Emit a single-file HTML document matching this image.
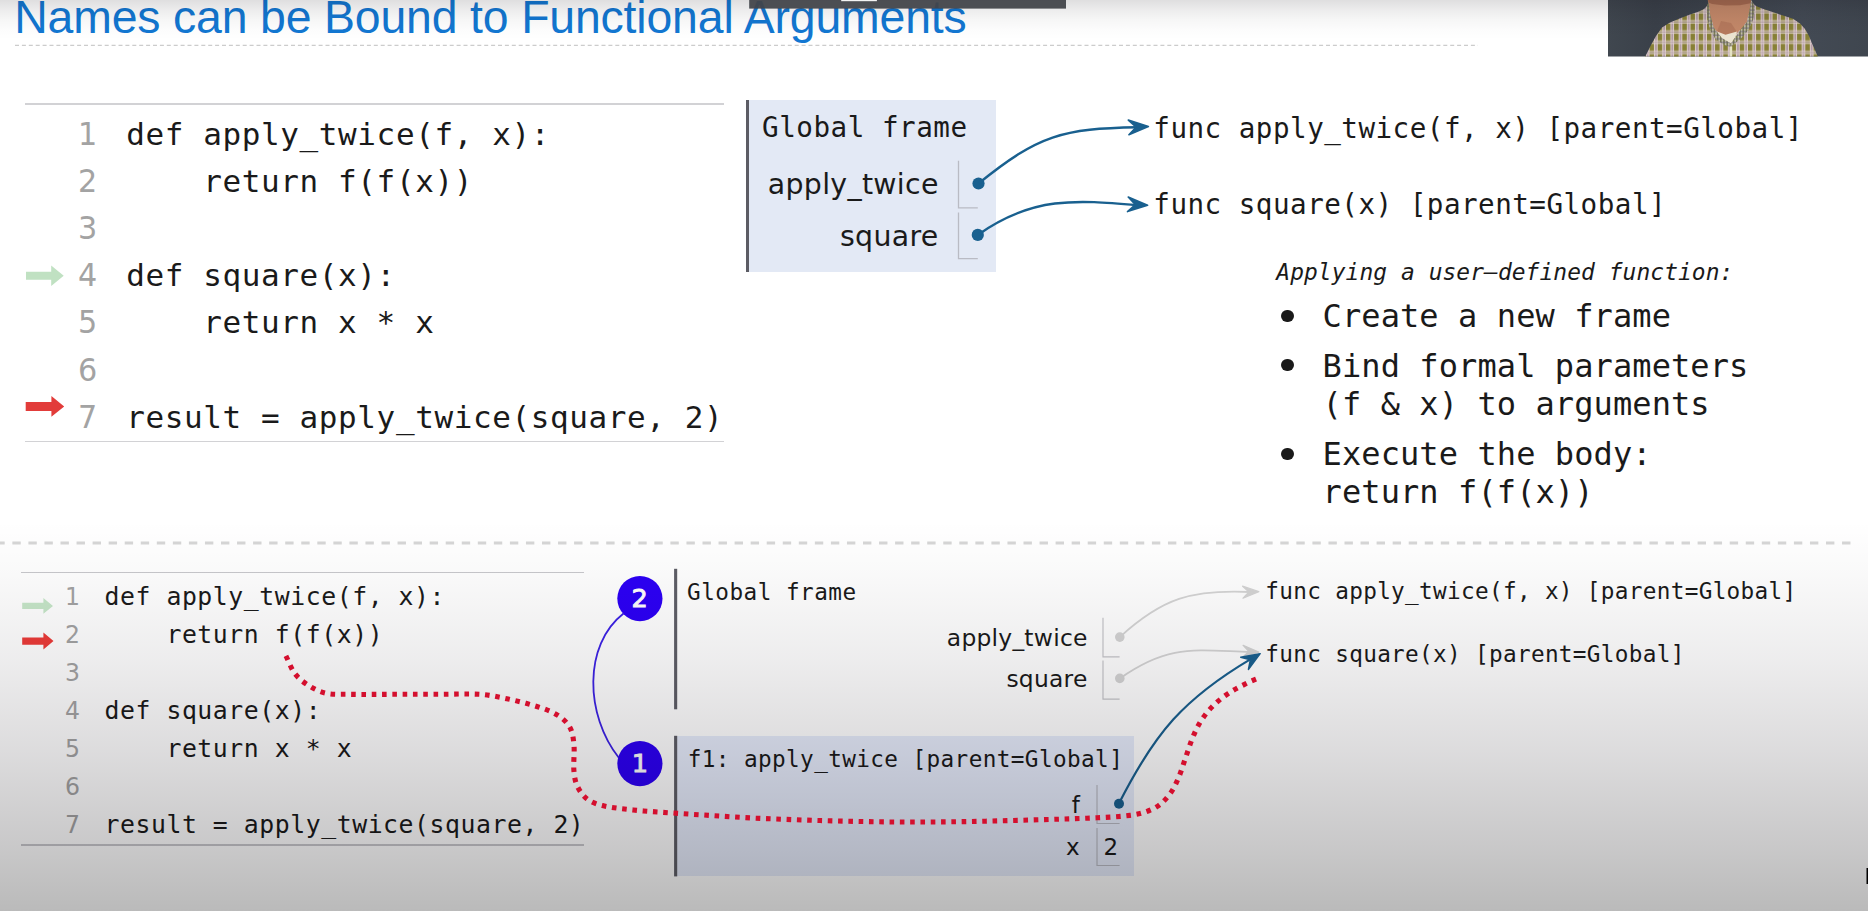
<!DOCTYPE html>
<html lang="en"><head><meta charset="utf-8"><title>Names can be Bound to Functional Arguments</title>
<style>
html,body{margin:0;padding:0;}
body{width:1868px;height:911px;overflow:hidden;background:#fff;position:relative;}
.t{position:absolute;white-space:pre;line-height:0;height:100px;}
.t::before{content:"";display:inline-block;width:0;height:100px;vertical-align:baseline;}
.abs{position:absolute;}
svg{position:absolute;left:0;top:0;}
</style></head>
<body>
<div class="t" style="left:14.2px;top:-66.6px;font-size:46.4px;font-family:'Liberation Sans', sans-serif;color:#1277d2;letter-spacing:-0.166px;">Names can be Bound to Functional Arguments</div>
<svg width="1868" height="60" style="z-index:0"><line x1="15" y1="45.3" x2="1478" y2="45.3" stroke="#cccccc" stroke-width="1.3" stroke-dasharray="4 2.9"/></svg>
<div class="abs" style="left:25px;top:103.4px;width:699px;height:1.3px;background:#d2d2d5;"></div>
<div class="abs" style="left:25px;top:440.9px;width:699px;height:1.3px;background:#d2d2d5;"></div>
<div class="t" style="left:78.3px;top:44.6px;font-size:31.2px;font-family:'DejaVu Sans', 'Liberation Sans', sans-serif;color:#a3a3a3;transform:scaleX(0.97);transform-origin:left;">1</div>
<div class="t" style="left:126.2px;top:44.6px;font-size:31.0px;font-family:'DejaVu Sans Mono', 'Liberation Mono', monospace;color:#1a1a1a;letter-spacing:0.6px;">def apply_twice(f, x):</div>
<div class="t" style="left:78.3px;top:91.8px;font-size:31.2px;font-family:'DejaVu Sans', 'Liberation Sans', sans-serif;color:#a3a3a3;transform:scaleX(0.97);transform-origin:left;">2</div>
<div class="t" style="left:126.2px;top:91.8px;font-size:31.0px;font-family:'DejaVu Sans Mono', 'Liberation Mono', monospace;color:#1a1a1a;letter-spacing:0.6px;">    return f(f(x))</div>
<div class="t" style="left:78.3px;top:139.0px;font-size:31.2px;font-family:'DejaVu Sans', 'Liberation Sans', sans-serif;color:#a3a3a3;transform:scaleX(0.97);transform-origin:left;">3</div>
<div class="t" style="left:78.3px;top:186.2px;font-size:31.2px;font-family:'DejaVu Sans', 'Liberation Sans', sans-serif;color:#a3a3a3;transform:scaleX(0.97);transform-origin:left;">4</div>
<div class="t" style="left:126.2px;top:186.2px;font-size:31.0px;font-family:'DejaVu Sans Mono', 'Liberation Mono', monospace;color:#1a1a1a;letter-spacing:0.6px;">def square(x):</div>
<div class="t" style="left:78.3px;top:233.4px;font-size:31.2px;font-family:'DejaVu Sans', 'Liberation Sans', sans-serif;color:#a3a3a3;transform:scaleX(0.97);transform-origin:left;">5</div>
<div class="t" style="left:126.2px;top:233.4px;font-size:31.0px;font-family:'DejaVu Sans Mono', 'Liberation Mono', monospace;color:#1a1a1a;letter-spacing:0.6px;">    return x * x</div>
<div class="t" style="left:78.3px;top:280.6px;font-size:31.2px;font-family:'DejaVu Sans', 'Liberation Sans', sans-serif;color:#a3a3a3;transform:scaleX(0.97);transform-origin:left;">6</div>
<div class="t" style="left:78.3px;top:327.8px;font-size:31.2px;font-family:'DejaVu Sans', 'Liberation Sans', sans-serif;color:#a3a3a3;transform:scaleX(0.97);transform-origin:left;">7</div>
<div class="t" style="left:126.2px;top:327.8px;font-size:31.0px;font-family:'DejaVu Sans Mono', 'Liberation Mono', monospace;color:#1a1a1a;letter-spacing:0.6px;">result = apply_twice(square, 2)</div>
<div class="abs" style="left:21px;top:572px;width:563px;height:1.3px;background:#c8c8cc;"></div>
<div class="abs" style="left:21px;top:844.3px;width:563px;height:1.3px;background:#c8c8cc;"></div>
<div class="t" style="left:64.6px;top:504.5px;font-size:24.3px;font-family:'DejaVu Sans', 'Liberation Sans', sans-serif;color:#a3a3a3;transform:scaleX(0.97);transform-origin:left;">1</div>
<div class="t" style="left:104.5px;top:504.5px;font-size:24.8px;font-family:'DejaVu Sans Mono', 'Liberation Mono', monospace;color:#1a1a1a;letter-spacing:0.55px;">def apply_twice(f, x):</div>
<div class="t" style="left:64.6px;top:542.5px;font-size:24.3px;font-family:'DejaVu Sans', 'Liberation Sans', sans-serif;color:#a3a3a3;transform:scaleX(0.97);transform-origin:left;">2</div>
<div class="t" style="left:104.5px;top:542.5px;font-size:24.8px;font-family:'DejaVu Sans Mono', 'Liberation Mono', monospace;color:#1a1a1a;letter-spacing:0.55px;">    return f(f(x))</div>
<div class="t" style="left:64.6px;top:580.5px;font-size:24.3px;font-family:'DejaVu Sans', 'Liberation Sans', sans-serif;color:#a3a3a3;transform:scaleX(0.97);transform-origin:left;">3</div>
<div class="t" style="left:64.6px;top:618.5px;font-size:24.3px;font-family:'DejaVu Sans', 'Liberation Sans', sans-serif;color:#a3a3a3;transform:scaleX(0.97);transform-origin:left;">4</div>
<div class="t" style="left:104.5px;top:618.5px;font-size:24.8px;font-family:'DejaVu Sans Mono', 'Liberation Mono', monospace;color:#1a1a1a;letter-spacing:0.55px;">def square(x):</div>
<div class="t" style="left:64.6px;top:656.5px;font-size:24.3px;font-family:'DejaVu Sans', 'Liberation Sans', sans-serif;color:#a3a3a3;transform:scaleX(0.97);transform-origin:left;">5</div>
<div class="t" style="left:104.5px;top:656.5px;font-size:24.8px;font-family:'DejaVu Sans Mono', 'Liberation Mono', monospace;color:#1a1a1a;letter-spacing:0.55px;">    return x * x</div>
<div class="t" style="left:64.6px;top:694.5px;font-size:24.3px;font-family:'DejaVu Sans', 'Liberation Sans', sans-serif;color:#a3a3a3;transform:scaleX(0.97);transform-origin:left;">6</div>
<div class="t" style="left:64.6px;top:732.5px;font-size:24.3px;font-family:'DejaVu Sans', 'Liberation Sans', sans-serif;color:#a3a3a3;transform:scaleX(0.97);transform-origin:left;">7</div>
<div class="t" style="left:104.5px;top:732.5px;font-size:24.8px;font-family:'DejaVu Sans Mono', 'Liberation Mono', monospace;color:#1a1a1a;letter-spacing:0.55px;">result = apply_twice(square, 2)</div>
<div class="abs" style="left:746px;top:100px;width:249.5px;height:172px;background:#e3e9f5;"></div>
<div class="abs" style="left:746px;top:100px;width:3px;height:172px;background:#5c5c64;"></div>
<div class="t" style="left:762px;top:37.1px;font-size:27.6px;font-family:'DejaVu Sans Mono', 'Liberation Mono', monospace;color:#1a1a1a;letter-spacing:0.52px;">Global frame</div>
<div class="t" style="left:767.8px;top:93.7px;font-size:28.4px;font-family:'DejaVu Sans', 'Liberation Sans', sans-serif;color:#1a1a1a;letter-spacing:0.3px;">apply_twice</div>
<div class="t" style="left:840px;top:145.5px;font-size:28.4px;font-family:'DejaVu Sans', 'Liberation Sans', sans-serif;color:#1a1a1a;letter-spacing:0.3px;">square</div>
<div class="t" style="left:1153.3px;top:37.7px;font-size:27.6px;font-family:'DejaVu Sans Mono', 'Liberation Mono', monospace;color:#1a1a1a;letter-spacing:0.48px;">func apply_twice(f, x) [parent=Global]</div>
<div class="t" style="left:1153.3px;top:114.2px;font-size:27.6px;font-family:'DejaVu Sans Mono', 'Liberation Mono', monospace;color:#1a1a1a;letter-spacing:0.48px;">func square(x) [parent=Global]</div>
<div class="t" style="left:1276.3px;top:179.9px;font-size:22.9px;font-family:'DejaVu Sans Mono', 'Liberation Mono', monospace;color:#1a1a1a;letter-spacing:0.07px;font-style:italic;">Applying a user–defined function:</div>
<div class="t" style="left:1322.6px;top:227.3px;font-size:32px;font-family:'DejaVu Sans Mono', 'Liberation Mono', monospace;color:#1a1a1a;letter-spacing:0.09px;">Create a new frame</div>
<div class="t" style="left:1322.6px;top:277.0px;font-size:32px;font-family:'DejaVu Sans Mono', 'Liberation Mono', monospace;color:#1a1a1a;letter-spacing:0.09px;">Bind formal parameters</div>
<div class="t" style="left:1322.6px;top:315.3px;font-size:32px;font-family:'DejaVu Sans Mono', 'Liberation Mono', monospace;color:#1a1a1a;letter-spacing:0.09px;">(f &amp; x) to arguments</div>
<div class="t" style="left:1322.6px;top:364.6px;font-size:32px;font-family:'DejaVu Sans Mono', 'Liberation Mono', monospace;color:#1a1a1a;letter-spacing:0.09px;">Execute the body:</div>
<div class="t" style="left:1322.6px;top:402.9px;font-size:32px;font-family:'DejaVu Sans Mono', 'Liberation Mono', monospace;color:#1a1a1a;letter-spacing:0.09px;">return f(f(x))</div>
<div class="abs" style="left:1281.3999999999999px;top:309.6px;width:12.4px;height:12.4px;border-radius:50%;background:#1a1a1a;"></div>
<div class="abs" style="left:1281.3999999999999px;top:359.0px;width:12.4px;height:12.4px;border-radius:50%;background:#1a1a1a;"></div>
<div class="abs" style="left:1281.3999999999999px;top:447.7px;width:12.4px;height:12.4px;border-radius:50%;background:#1a1a1a;"></div>
<svg width="1868" height="560"><line x1="-3.7" y1="543" x2="1856" y2="543" stroke="#d6d6d6" stroke-width="3.2" stroke-dasharray="8.4 7.65"/></svg>
<div class="t" style="left:687px;top:499.5px;font-size:22.7px;font-family:'DejaVu Sans Mono', 'Liberation Mono', monospace;color:#1a1a1a;letter-spacing:0.47px;">Global frame</div>
<div class="t" style="left:946.8px;top:545.7px;font-size:23.4px;font-family:'DejaVu Sans', 'Liberation Sans', sans-serif;color:#1a1a1a;letter-spacing:0.25px;">apply_twice</div>
<div class="t" style="left:1006.4px;top:587.4px;font-size:23.4px;font-family:'DejaVu Sans', 'Liberation Sans', sans-serif;color:#1a1a1a;letter-spacing:0.25px;">square</div>
<div class="abs" style="left:675px;top:735.8px;width:458.6px;height:140.4px;background:#e6ecfb;"></div>
<div class="t" style="left:687.7px;top:666.5px;font-size:22.7px;font-family:'DejaVu Sans Mono', 'Liberation Mono', monospace;color:#1a1a1a;letter-spacing:0.39px;">f1: apply_twice [parent=Global]</div>
<div class="t" style="left:1071.8px;top:712.6px;font-size:23px;font-family:'DejaVu Sans', 'Liberation Sans', sans-serif;color:#1a1a1a;">f</div>
<div class="t" style="left:1066px;top:755px;font-size:23px;font-family:'DejaVu Sans', 'Liberation Sans', sans-serif;color:#1a1a1a;">x</div>
<div class="t" style="left:1103.5px;top:755px;font-size:23px;font-family:'DejaVu Sans', 'Liberation Sans', sans-serif;color:#1a1a1a;">2</div>
<div class="t" style="left:1265.3px;top:499.3px;font-size:22.7px;font-family:'DejaVu Sans Mono', 'Liberation Mono', monospace;color:#1a1a1a;letter-spacing:0.32px;">func apply_twice(f, x) [parent=Global]</div>
<div class="t" style="left:1265.3px;top:562.3px;font-size:22.7px;font-family:'DejaVu Sans Mono', 'Liberation Mono', monospace;color:#1a1a1a;letter-spacing:0.32px;">func square(x) [parent=Global]</div>
<svg width="1868" height="911" viewBox="0 0 1868 911">
<path d="M26 271.8 L51.2 271.8 L51.2 265.55 L63.7 275.8 L51.2 286.05 L51.2 279.8 L26 279.8 Z" fill="#c0e1c2"/>
<path d="M25.7 401.9 L51.4 401.9 L51.4 396.04999999999995 L64.2 406.4 L51.4 416.75 L51.4 410.9 L25.7 410.9 Z" fill="#e23c3a"/>
<path d="M22.2 602.85 L43.4 602.85 L43.4 598.0 L53 605.9 L43.4 613.8 L43.4 608.9499999999999 L22.2 608.9499999999999 Z" fill="#c6e6c8"/>
<path d="M22.2 637.45 L43.4 637.45 L43.4 632.6 L53.5 641.1 L43.4 649.6 L43.4 644.75 L22.2 644.75 Z" fill="#ec3b38"/>
<path d="M958.5 160.7 V207.8 H977.8" fill="none" stroke="#b9bbc4" stroke-width="1.3"/>
<path d="M958.5 212.5 V258.7 H977.8" fill="none" stroke="#b9bbc4" stroke-width="1.3"/>
<path d="M1103 617.8 V656.8 H1119.6" fill="none" stroke="#c6c6ca" stroke-width="1.2"/>
<path d="M1103 660.6 V699.2 H1119.6" fill="none" stroke="#c6c6ca" stroke-width="1.2"/>
<path d="M1097 785 V823.5 H1119.6" fill="none" stroke="#b9bbc4" stroke-width="1.2"/>
<path d="M1097 828 V865.5 H1119.6" fill="none" stroke="#b9bbc4" stroke-width="1.2"/>
<circle cx="978.5" cy="183.5" r="6.1" fill="#19608f"/>
<circle cx="977.8" cy="234.9" r="6.1" fill="#19608f"/>
<path d="M978.5 183.5 C1038.8 134.7 1062.6 128.6 1138 127.3" fill="none" stroke="#19608f" stroke-width="2.4"/>
<path d="M977.8 234.9 C1032.5 196.3 1075.2 199.8 1138 205.2" fill="none" stroke="#19608f" stroke-width="2.4"/>
<path d="M1148.4 126.6 L1128.3 120.1 L1136.2 127.1 L1128.9 134.7 Z" fill="#19608f" stroke="#19608f" stroke-width="1.6" stroke-linejoin="round"/>
<path d="M1147.6 205.3 L1128.2 197.0 L1135.4 204.7 L1127.5 211.6 Z" fill="#19608f" stroke="#19608f" stroke-width="1.6" stroke-linejoin="round"/>
<circle cx="1119.8" cy="637.1" r="4.8" fill="#d4d4d4"/>
<circle cx="1119.8" cy="678.4" r="4.8" fill="#d4d4d4"/>
<path d="M1119.8 637.1 C1162.3 598.1 1191.9 589.3 1250 592" fill="none" stroke="#d4d4d4" stroke-width="1.8"/>
<path d="M1119.8 678.4 C1169.0 643.9 1193.7 650.3 1250 652" fill="none" stroke="#d4d4d4" stroke-width="1.8"/>
<path d="M1258.8 591.7 L1242.6 586.2 L1249.0 592.0 L1243.0 598.2 Z" fill="#d4d4d4" stroke="#d4d4d4" stroke-width="1.3" stroke-linejoin="round"/>
<path d="M1258.8 652.1 L1243.1 645.3 L1249.0 651.6 L1242.5 657.3 Z" fill="#d4d4d4" stroke="#d4d4d4" stroke-width="1.3" stroke-linejoin="round"/>
<circle cx="1119" cy="803.7" r="5" fill="#19608f"/>
<path d="M1118.9 803.6 C1154.7 732.9 1183.8 698.6 1251.5 658.6" fill="none" stroke="#19608f" stroke-width="2.2"/>
<path d="M1260.2 653.6 L1240.7 657.3 L1250.3 659.8 L1248.4 669.5 Z" fill="#19608f" stroke="#19608f" stroke-width="1.4" stroke-linejoin="round"/>
<rect x="674.1" y="568.8" width="3.1" height="140.5" fill="#5e5e66"/>
<rect x="674.1" y="735.8" width="3.1" height="140.6" fill="#5e5e66"/>
<path d="M623.5 613.5 C583 645 585 715 619 758" fill="none" stroke="#3c22e6" stroke-width="1.8"/>
<circle cx="639.9" cy="598.6" r="22.6" fill="#2c00f5"/>
<circle cx="639.9" cy="763.6" r="22.6" fill="#2c00f5"/>
<text x="639.6" y="607.2" text-anchor="middle" font-family="'DejaVu Sans', 'Liberation Sans', sans-serif" font-size="25.6" fill="#fff" stroke="#fff" stroke-width="0.9">2</text>
<text x="639.9" y="772.2" text-anchor="middle" font-family="'DejaVu Sans', 'Liberation Sans', sans-serif" font-size="25.6" fill="#fff" stroke="#fff" stroke-width="0.9">1</text>
<defs>
<pattern id="plaid" x="1608.5" y="3.5" width="8.2" height="10.2" patternUnits="userSpaceOnUse">
<rect width="8.2" height="10.2" fill="#878035"/>
<rect x="4.5" y="0" width="3.7" height="10.2" fill="#ebdcd6"/>
<rect x="5.3" y="0" width="0.7" height="10.2" fill="#775a72" fill-opacity="0.8"/>
<rect x="6.7" y="0" width="0.7" height="10.2" fill="#775a72" fill-opacity="0.8"/>
<rect x="0" y="6.2" width="8.2" height="4" fill="#f0e2dc" fill-opacity="0.55"/>
<rect x="0" y="7.2" width="8.2" height="0.6" fill="#775a72" fill-opacity="0.4"/>
<rect x="0" y="8.7" width="8.2" height="0.6" fill="#775a72" fill-opacity="0.4"/>
</pattern>
<pattern id="plaid2" x="1608" y="0" width="3.2" height="3.6" patternUnits="userSpaceOnUse">
<rect width="3.2" height="3.6" fill="#7c7d55"/>
<rect x="1.7" y="0" width="1.5" height="3.6" fill="#ddd6cc" fill-opacity="0.75"/>
<rect x="0" y="2.1" width="3.2" height="1.5" fill="#5e5470" fill-opacity="0.45"/>
</pattern>
<linearGradient id="bgv" x1="0" y1="0" x2="1" y2="0">
<stop offset="0" stop-color="#40474f"/><stop offset="0.18" stop-color="#3a4049"/><stop offset="0.45" stop-color="#3e454e"/><stop offset="0.75" stop-color="#434a54"/><stop offset="1" stop-color="#3f464f"/>
</linearGradient>
<clipPath id="vclip"><rect x="1608" y="0" width="260" height="56.5"/></clipPath>
</defs>
<g clip-path="url(#vclip)">
<rect x="1608" y="0" width="260" height="57" fill="url(#bgv)"/>
<path d="M1645 57 L1651 45 L1656 36 L1662 27.5 L1670 22.5 L1679 18.8 L1690 14.5 L1699 11.6 L1704 9 L1707 6 L1709 2 L1712 0 L1749 0 L1752 2.5 L1756 6 L1762 8.5 L1771 11.6 L1783 15.5 L1793 18.8 L1800 23.5 L1805 29 L1809 36 L1812 43.5 L1815 50 L1818 57 Z" fill="url(#plaid)"/>
<path d="M1707.8 0 L1751.2 0 L1749.8 8.7 L1746.9 21.7 L1741 29 L1735.3 34.7 L1725.5 36 L1718 33 L1713.6 27.5 L1710 14.5 Z" fill="#c38869"/>
<path d="M1708 0 L1751 0 L1750.6 3.2 L1740 5.2 L1725 5.6 L1712 4 L1708.6 2.5 Z" fill="#a56a50"/>
<path d="M1721 21 L1731 23 L1737 32 L1725.5 35.5 L1717 31.5 Z" fill="#ad7258" fill-opacity="0.65"/>
<path d="M1714.5 30.5 L1725.5 34.8 L1737 31.5 L1735.5 37 L1731 43 L1727 41.5 L1721 39 L1716.5 35 Z" fill="#ece4d2"/>
<path d="M1706.5 7.5 L1708.5 2 L1710.2 14.5 L1713.8 27.5 L1718 33 L1722 38 L1731 43.5 L1730 47 L1723 44.5 L1715 38.5 L1710 30 L1707.5 19 Z" fill="url(#plaid2)"/>
<path d="M1751.2 0 L1753.2 3 L1755 9 L1753 20 L1748.5 30 L1741 38.5 L1733 45 L1730 47 L1731 43.5 L1735.5 37 L1741.2 29.2 L1747 21.7 L1749.9 8.7 Z" fill="url(#plaid2)"/>
<rect x="1729.6" y="46.5" width="2.6" height="11" fill="#e6e4c4"/>
</g>
<rect x="1866.5" y="868" width="2" height="16" fill="#000"/>
</svg>
<div class="abs" style="left:0;top:0;width:1868px;height:40px;background:linear-gradient(to bottom, rgba(6,0,10,0.13) 0%, rgba(6,0,10,0.075) 25%, rgba(6,0,10,0.035) 50%, rgba(6,0,10,0.012) 75%, rgba(6,0,10,0) 100%);"></div>
<div class="abs" style="left:0;top:520px;width:1868px;height:391px;background:linear-gradient(to bottom, rgba(8,0,12,0) 0%, rgba(8,0,12,0.02) 12%, rgba(8,0,12,0.07) 35%, rgba(6,0,9,0.14) 60%, rgba(3,0,4,0.22) 85%, rgba(0,0,0,0.27) 100%);"></div>
<svg width="1868" height="911" viewBox="0 0 1868 911"><path d="M285.9 655.9 C289.0 661.9 291.0 668.6 295.1 673.9 C298.9 678.8 304.1 682.7 309.4 686.0 C314.5 689.2 320.0 691.9 325.9 693.2 C333.0 694.7 340.5 694.2 347.8 694.3 C365.2 694.6 382.6 694.3 400.0 694.3 C413.3 694.3 426.7 694.3 440.0 694.3 C453.2 694.3 466.4 693.6 479.5 694.3 C486.9 694.7 494.2 696.1 501.5 697.6 C512.6 699.9 523.6 702.4 534.4 705.7 C541.9 708.0 549.6 710.5 556.4 714.5 C561.5 717.5 566.5 721.5 569.5 726.6 C572.6 731.8 573.3 738.2 573.9 744.2 C574.8 752.9 573.2 761.8 573.9 770.5 C574.3 775.7 575.0 781.1 577.2 785.9 C579.5 790.9 582.8 795.6 587.1 799.0 C591.5 802.4 597.1 804.3 602.5 805.6 C612.6 808.0 622.9 808.8 633.2 810.0 C642.1 811.0 651.1 811.5 660.0 812.1 C673.3 813.1 686.7 814.0 700.0 814.8 C720.9 816.1 741.8 817.6 762.8 818.5 C797.1 819.9 831.3 821.0 865.6 821.6 C891.3 822.1 916.9 822.1 942.6 821.9 C968.3 821.7 994.0 821.0 1019.7 820.3 C1045.4 819.6 1071.1 818.9 1096.8 817.8 C1107.8 817.3 1118.9 816.7 1129.8 815.4 C1135.2 814.8 1140.5 813.7 1145.6 811.9 C1150.5 810.2 1155.3 808.1 1159.4 804.9 C1164.0 801.3 1167.9 796.9 1171.2 792.1 C1174.5 787.3 1176.8 781.7 1179.1 776.3 C1181.8 769.8 1183.7 763.1 1186.0 756.5 C1188.3 749.9 1190.3 743.2 1193.0 736.8 C1195.3 731.4 1197.7 726.0 1200.9 721.0 C1204.3 715.7 1208.2 710.7 1212.7 706.2 C1217.5 701.4 1222.8 697.1 1228.5 693.3 C1234.8 689.1 1241.6 685.9 1248.3 682.5 C1251.8 680.7 1255.5 679.4 1259.1 677.9" fill="none" stroke="#d40f2e" stroke-width="5.1" stroke-dasharray="4.6 5.7"/><rect x="749.2" y="0" width="316.8" height="8.6" fill="#424449" fill-opacity="0.94"/><rect x="841.2" y="0" width="35.7" height="1.2" fill="#f4f4f4"/></svg>
</body></html>
